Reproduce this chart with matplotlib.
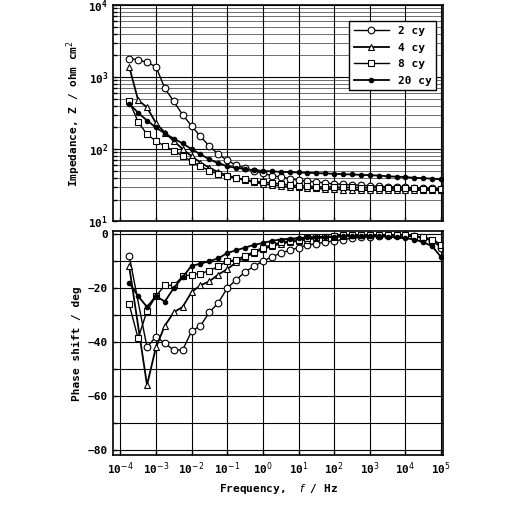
import numpy as np
import matplotlib
matplotlib.use("Agg")
import matplotlib.pyplot as plt
from matplotlib.ticker import FixedLocator, LogLocator, NullFormatter

log_f = [-3.75,-3.5,-3.25,-3.0,-2.75,-2.5,-2.25,-2.0,-1.75,-1.5,-1.25,-1.0,-0.75,-0.5,-0.25,0.0,
         0.25,0.5,0.75,1.0,1.25,1.5,1.75,2.0,2.25,2.5,2.75,3.0,3.25,3.5,3.75,4.0,4.25,4.5,4.75,5.0]
labels = ["2 cy", "4 cy", "8 cy", "20 cy"]
z_2 = [1800,1750,1600,1400,700,460,300,210,150,110,85,70,60,54,50,46,43,41,39,37,
       36,35,34,33,32.5,32,31.5,31,30.5,30,30,29.5,29,29,28.5,28]
z_4 = [1400,480,380,230,170,130,100,80,65,55,48,43,40,37,35,33,32,31,30,29.5,
       29,28.5,28,28,27.5,27.5,27,27,27,27,27,27,27,27,27,27]
z_8 = [460,240,160,130,110,95,80,68,58,50,45,42,40,38,36,35,34,33,32,31,
       31,30,30,30,29.5,29.5,29,29,29,29,28.5,28.5,28.5,28,28,28]
z_20 = [430,320,250,200,165,140,120,100,85,72,64,58,55,53,51,50,49,48.5,48,47.5,
        47,46.5,46,45.5,45,44.5,44,43.5,43,42,41.5,41,40,39.5,39,38]
nan = float("nan")
p_2 = [-8,nan,-42,-38,-40.5,-43,-43,-36,-34,-29,-25.5,-20,-17,-14,-12,-10,-8.5,-7,-6,-5,
       -4,-3.5,-3,-2.5,-2,-1.5,-1.2,-1,-0.8,-0.5,-0.5,-0.5,-0.8,-1.5,-2.5,-5]
p_4 = [-12,nan,-56,-42,-34,-29,-27,-21.5,-19,-17.5,-15,-13,-10.5,-8.5,-7,-5.5,-4.5,-3.5,-3,-2.5,
       -2,-1.5,-1.2,-1,-0.8,-0.5,-0.5,-0.3,-0.3,-0.3,-0.5,-0.5,-0.8,-1.2,-2,-4]
p_8 = [-26,-38.7,-28.5,-23,-19,-19,-15.7,-15,-14.7,-13.5,-12,-10,-9.5,-8,-6.5,-5,-4,-3,-2.5,-2,
       -1.5,-1.2,-1,-0.8,-0.5,-0.5,-0.4,-0.3,-0.3,-0.3,-0.3,-0.5,-0.8,-1.2,-2,-4]
p_20 = [-18,-23,-27,-23,-25,-20,-16,-11.7,-11,-10,-9,-7,-6,-5,-4,-3.3,-2.5,-2,-1.7,-1.5,
        -1.2,-1,-1,-1,-0.8,-0.8,-0.8,-0.8,-0.8,-1,-1.2,-1.5,-2,-3,-4.5,-8.5]

styles = [dict(marker="o", mfc="white", ms=4.8, lw=1.0),
          dict(marker="^", mfc="white", ms=4.8, lw=1.3),
          dict(marker="s", mfc="white", ms=4.0, lw=1.0),
          dict(marker="o", mfc="black", ms=3.2, lw=1.3)]

f = 10.0 ** np.array(log_f)
fig = plt.figure(figsize=(5.12, 5.12), dpi=100)
ax1 = fig.add_axes([0.221, 0.568, 0.644, 0.422])
ax2 = fig.add_axes([0.221, 0.111, 0.644, 0.437])
fnt = dict(family="DejaVu Sans Mono", weight="bold", size=8)
FP = lambda: matplotlib.font_manager.FontProperties(**fnt)

for z, st, lab in zip([z_2, z_4, z_8, z_20], styles, labels):
    ax1.plot(f, z, color="black", mec="black", mew=0.8, label=lab, **st)
for p, st in zip([p_2, p_4, p_8, p_20], styles):
    p = np.array(p); m = np.isfinite(p)
    ax2.plot(f[m], p[m], color="black", mec="black", mew=0.8, **st)

for ax in (ax1, ax2):
    ax.set_xscale("log")
    ax.set_xlim(10**-4.2, 10**5.05)
    ax.xaxis.set_major_locator(LogLocator(base=10, numticks=20))
    ax.xaxis.set_minor_locator(FixedLocator([]))
    ax.grid(True, which="major", axis="x", color="black", lw=0.8)
    ax.tick_params(direction="in", which="both", length=3, width=1)
    for s in ax.spines.values():
        s.set_linewidth(1.2)

ax1.set_yscale("log")
ax1.set_ylim(10, 1e4)
ax1.yaxis.set_major_locator(LogLocator(base=10, numticks=10))
ax1.yaxis.set_minor_locator(LogLocator(base=10, subs=np.arange(2, 10), numticks=10))
ax1.yaxis.set_minor_formatter(NullFormatter())
ax1.grid(True, which="major", axis="y", color="black", lw=0.8)
ax1.grid(True, which="minor", axis="y", color="black", lw=0.4)
ax1.set_xticklabels([])
ax1.set_ylabel("Impedance, Z / ohm cm$^2$", fontdict=fnt)
for t in ax1.get_yticklabels():
    t.set_fontproperties(FP())
leg = ax1.legend(loc="upper right", bbox_to_anchor=(0.99, 0.94), frameon=True, fancybox=False,
                 edgecolor="black", handlelength=3.2, prop=FP(),
                 labelspacing=0.6, borderaxespad=0.3)
leg.get_frame().set_linewidth(1.0)
leg.get_frame().set_alpha(1)

ax2.set_ylim(-82, 1)
ax2.set_yticks([0, -20, -40, -60, -80])
ax2.yaxis.set_minor_locator(FixedLocator(np.arange(-70, 0, 20)))
ax2.grid(True, which="both", axis="y", color="black", lw=0.8)
ax2.set_xticks(10.0 ** np.arange(-4, 6))
ax2.set_xticklabels([f"10$^{{{e}}}$" for e in range(-4, 6)])
ax2.set_ylabel("Phase shift / deg", fontdict=fnt)
ax2.set_xlabel("Frequency,  $f$ / Hz", fontdict=fnt)
for t in ax2.get_xticklabels() + ax2.get_yticklabels():
    t.set_fontproperties(FP())

fig.savefig("out.png", dpi=100, facecolor="white")
